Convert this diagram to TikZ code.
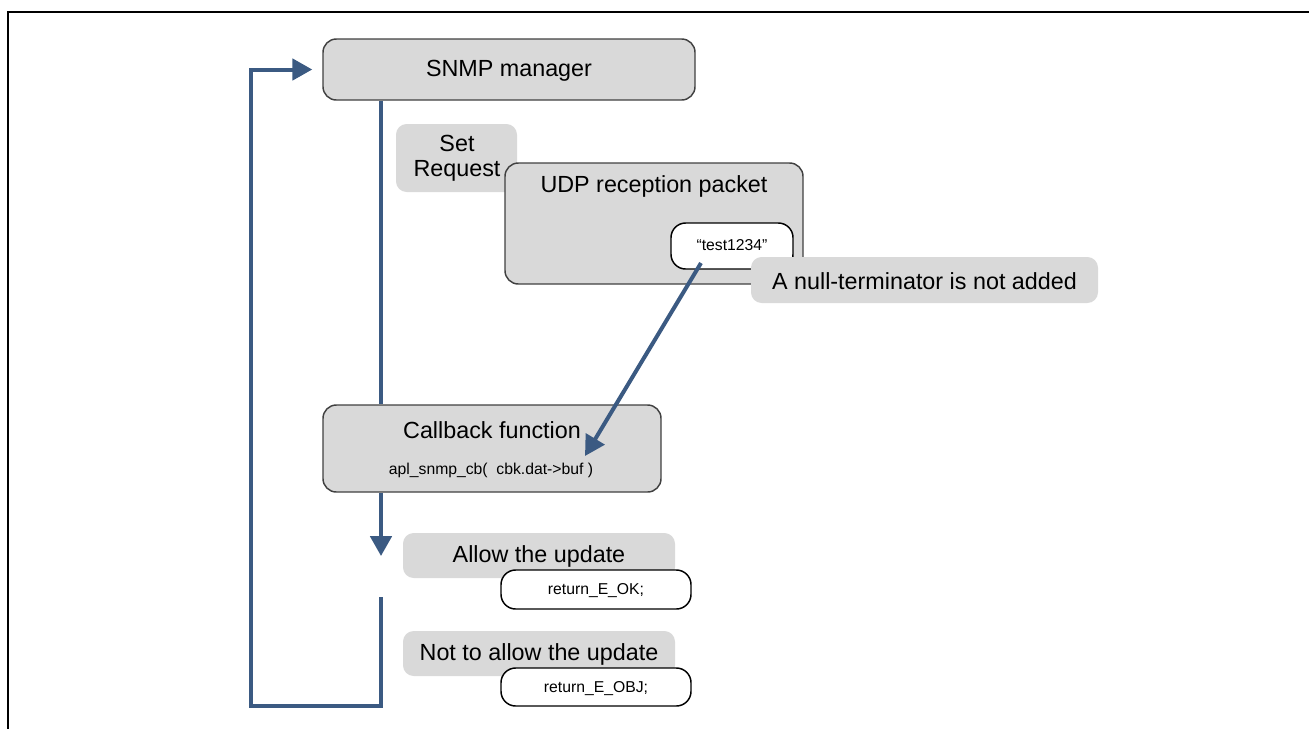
\documentclass[tikz,border=0pt]{standalone}
\usepackage{fontspec}
\setmainfont{Liberation Sans}
\usetikzlibrary{arrows.meta}
\definecolor{boxgray}{HTML}{D9D9D9}
\definecolor{edgegray}{HTML}{404040}
\definecolor{flowblue}{HTML}{3B5A82}
\tikzset{
  graybox/.style={draw=edgegray, line width=1.1pt, fill=boxgray, rounded corners=10pt, inner sep=0pt},
  tagbox/.style={fill=boxgray, rounded corners=8pt, inner sep=0pt},
  codebox/.style={draw=black, line width=1.1pt, fill=white, rounded corners=11pt, inner sep=0pt},
  bigtxt/.style={font=\fontsize{17.5}{20}\selectfont, inner sep=0pt},
  smalltxt/.style={font=\fontsize{11.8}{13}\selectfont, inner sep=0pt},
  flow/.style={draw=flowblue, line width=3pt},
  flowarrow/.style={flow, -{Triangle[length=15pt,width=16pt]}},
}
\begin{document}
\begin{tikzpicture}[x=0.75pt,y=-0.75pt]
\useasboundingbox (0,0) rectangle (1309,729);
% frame
\draw[line width=1.7pt] (1309,12) -- (8,12) -- (8,729);

% boxes
\node[graybox, minimum width=279pt, minimum height=45.75pt] (snmp) at (509,69.5) {};
\node[bigtxt] (snmptxt) at (509,70.5) {SNMP manager};

\node[tagbox, minimum width=90.75pt, minimum height=51pt] (setreq) at (456.5,158) {};
\node[bigtxt, align=center, font=\fontsize{17.5}{18.5}\selectfont] (setreqtxt) at (457,158) {Set\\Request};

\node[graybox, minimum width=223.5pt, minimum height=90.75pt] (udp) at (654,223.5) {};
\node[bigtxt] (udptxt) at (654,186) {UDP reception packet};

\node[codebox, minimum width=91.5pt, minimum height=34.5pt] (str) at (732,246) {};
\node[smalltxt] (strtxt) at (732,245.5) {“test1234”};

\node[tagbox, minimum width=260.25pt, minimum height=34.5pt] (nul) at (924.5,280) {};
\node[bigtxt] (nultxt) at (924.5,281) {A null-terminator is not added};

\node[graybox, minimum width=253.5pt, minimum height=65.25pt] (cb) at (492,448.5) {};
\node[bigtxt] (cbtxt) at (492,430) {Callback function};
\node[smalltxt] (cbcode) at (491,470) {apl\_snmp\_cb(\ \ cbk.dat->buf )};

\node[tagbox, minimum width=204pt, minimum height=33.75pt] (allow) at (539,555.5) {};
\node[bigtxt] (allowtxt) at (539,556.5) {Allow the update};
\node[codebox, minimum width=142.5pt, minimum height=29.25pt] (ok) at (596,589.5) {};
\node[smalltxt] (oktxt) at (596,591) {return\_E\_OK;};

\node[tagbox, minimum width=204pt, minimum height=33.75pt] (deny) at (539,653.5) {};
\node[bigtxt] (denytxt) at (539,654.5) {Not to allow the update};
\node[codebox, minimum width=142.5pt, minimum height=28.5pt] (obj) at (596,687) {};
\node[smalltxt] (objtxt) at (596,688.5) {return\_E\_OBJ;};

% connectors
\coordinate (vx) at (381,0);
\coordinate (tipdown) at (381,556);
\coordinate (loopstart) at (381,597);
\coordinate (loopbr) at (381,706);
\coordinate (loopbl) at (251,706);
\coordinate (looptl) at (251,69.5);
\coordinate (strfrom) at (701,263);
\coordinate (bufto) at (585,456);

\draw[flow] (snmp.south -| vx) -- (cb.north -| vx);
\draw[flowarrow] (cb.south -| vx) -- (tipdown);
\draw[flowarrow, shorten >=7.5pt] (loopstart) -- (loopbr) -- (loopbl) -- (looptl) -- (snmp.west);
\draw[flowarrow] (strfrom) -- (bufto);
\end{tikzpicture}
\end{document}
